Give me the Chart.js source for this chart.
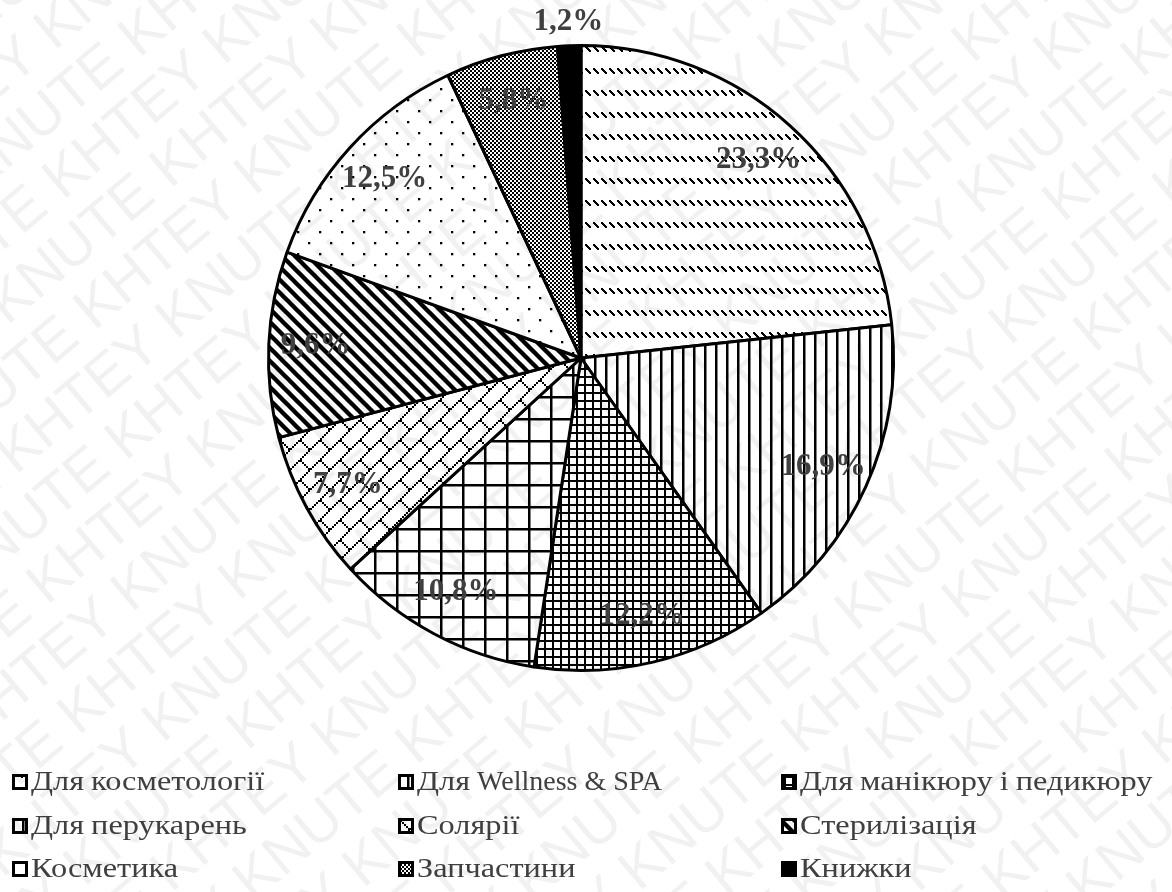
<!DOCTYPE html>
<html>
<head>
<meta charset="utf-8">
<script src="https://cdn.jsdelivr.net/npm/chart.js@4/dist/chart.umd.min.js"></script>
<style>
  html, body { margin: 0; padding: 0; background: #ffffff; }
  #wrap { width: 1172px; height: 892px; position: relative; }
  canvas { display: block; }
</style>
</head>
<body>
<div id="wrap"><canvas id="chart" width="1172" height="892"></canvas></div>
<script>
// Product groups and their share of sales, %
const categories = [
  'Для косметології',
  'Для Wellness & SPA',
  'Для манікюру і педикюру',
  'Для перукарень',
  'Солярії',
  'Стерилізація',
  'Косметика',
  'Запчастини',
  'Книжки'
];
const shares = [23.3, 16.9, 12.2, 10.8, 7.7, 9.6, 12.5, 5.8, 1.2];

// Hatch fill used for each sector (same order as categories)
const fillKinds = ['dashedDiagonal', 'vertical', 'smallGrid', 'largeGrid',
                   'diagonalBrick', 'wideDiagonal', 'dots', 'checker', 'solid'];

const canvas = document.getElementById('chart');
const mainCtx = canvas.getContext('2d');

function makeTile(w, h, draw) {
  const c = document.createElement('canvas');
  c.width = w; c.height = h;
  const g = c.getContext('2d');
  g.fillStyle = '#ffffff';
  g.fillRect(0, 0, w, h);
  g.fillStyle = '#000000';
  g.strokeStyle = '#000000';
  draw(g, w, h);
  return mainCtx.createPattern(c, 'repeat');
}

function makeFill(kind) {
  switch (kind) {
    case 'dashedDiagonal':
      return makeTile(8, 22, g => {
        for (let s = 0; s < 5; s++) g.fillRect(1 + s, 2 + s, 2, 2);
      });
    case 'vertical':
      return makeTile(11, 11, g => g.fillRect(0, 0, 2.5, 11));
    case 'smallGrid':
      return makeTile(8, 8, g => { g.fillRect(0, 0, 8, 2); g.fillRect(0, 0, 2, 8); });
    case 'largeGrid':
      return makeTile(22, 22, g => { g.fillRect(0, 0, 22, 2.5); g.fillRect(0, 0, 2.5, 22); });
    case 'diagonalBrick':
      return makeTile(20, 20, g => {
        for (let i = 0; i <= 18; i += 2) g.fillRect(i, 18 - i, 2, 2);
        for (let i = 0; i <= 8; i += 2) g.fillRect(i, i, 2, 2);
      });
    case 'wideDiagonal':
      return makeTile(13, 13, g => {
        g.lineWidth = 4.4;
        for (let k = -1; k <= 1; k++) {
          g.beginPath();
          g.moveTo(k * 13 - 2, -2);
          g.lineTo(k * 13 + 15, 15);
          g.stroke();
        }
      });
    case 'dots':
      return makeTile(22, 22, g => { g.fillRect(0, 0, 2.3, 2.3); g.fillRect(11, 11, 2.3, 2.3); });
    case 'checker':
      return makeTile(4, 4, g => { g.fillRect(0, 0, 2, 2); g.fillRect(2, 2, 2, 2); });
    default:
      return '#000000';
  }
}

const fills = fillKinds.map(makeFill);

const fmt = v => v.toFixed(1).replace('.', ',') + '%';

// Percentage labels inside the sectors (outside for very thin ones)
const sectorLabels = {
  id: 'sectorLabels',
  afterDatasetsDraw(chart) {
    const ctx = chart.ctx;
    const meta = chart.getDatasetMeta(0);
    ctx.save();
    ctx.font = 'bold 31px "Liberation Serif", "Times New Roman", serif';
    ctx.fillStyle = '#404040';
    ctx.textAlign = 'center';
    ctx.textBaseline = 'middle';
    meta.data.forEach((arc, i) => {
      const p = arc.getProps(['x', 'y', 'startAngle', 'endAngle', 'outerRadius'], true);
      const mid = (p.startAngle + p.endAngle) / 2;
      const r = p.outerRadius * (shares[i] < 2 ? 1.075 : 0.85);
      ctx.fillText(fmt(shares[i]), p.x + Math.cos(mid) * r, p.y + Math.sin(mid) * r);
    });
    ctx.restore();
  }
};

// Cyrillic runs are set slightly wider than Latin ones
function drawLegendText(ctx, text, x, y) {
  const runs = text.split(/([\u0400-\u04FF]+)/).filter(s => s.length);
  runs.forEach(run => {
    const cyr = /[\u0400-\u04FF]/.test(run);
    const sx = cyr ? 1.155 : 1;
    const w = ctx.measureText(run).width * sx;
    ctx.save();
    ctx.translate(x, y);
    ctx.scale(sx, 1);
    ctx.fillText(run, 0, 0);
    ctx.restore();
    x += w;
  });
}

// Three-column legend under the pie
const gridLegend = {
  id: 'gridLegend',
  afterDraw(chart) {
    const ctx = chart.ctx;
    const colX = [12, 398, 781];
    const rowY = [782, 826, 869];
    const ds = chart.data.datasets[0];
    ctx.save();
    ctx.font = '28px "Liberation Serif", "Times New Roman", serif';
    ctx.textBaseline = 'middle';
    ctx.textAlign = 'left';
    chart.data.labels.forEach((label, i) => {
      const x = colX[i % 3];
      const y = rowY[Math.floor(i / 3)];
      ctx.fillStyle = '#000000';
      ctx.fillRect(x, y - 8, 16, 16);
      ctx.fillStyle = '#ffffff';
      ctx.fillRect(x + 3, y - 5, 10, 10);
      ctx.fillStyle = ds.backgroundColor[i];
      ctx.fillRect(x + 3, y - 5, 10, 10);
      ctx.fillStyle = '#404040';
      drawLegendText(ctx, label, x + 19, y + 1);
    });
    ctx.restore();
  }
};

// Faint diagonal watermark across the whole sheet
const watermark = {
  id: 'watermark',
  afterDraw(chart) {
    const ctx = chart.ctx;
    ctx.save();
    ctx.translate(chart.width / 2, chart.height / 2);
    ctx.rotate(-40 * Math.PI / 180);
    ctx.font = '58px "Liberation Sans", Arial, sans-serif';
    ctx.fillStyle = 'rgba(0,0,0,0.055)';
    ctx.textBaseline = 'middle';
    const words = ['KHTEY', 'KNUTE'];
    for (let row = -16; row <= 16; row++) {
      let line = '';
      for (let k = 0; k < 16; k++) line += words[(k + row + 32) % 2] + ' ';
      ctx.fillText(line, -1300 + (row % 3) * 60, row * 60);
    }
    ctx.restore();
  }
};

new Chart(canvas, {
  type: 'pie',
  data: {
    labels: categories,
    datasets: [{
      data: shares,
      backgroundColor: fills,
      borderColor: '#000000',
      borderWidth: 3,
      hoverOffset: 0
    }]
  },
  options: {
    responsive: false,
    animation: false,
    devicePixelRatio: 1,
    layout: { padding: { top: 44, bottom: 220, left: 0, right: 10 } },
    plugins: {
      legend: { display: false },
      tooltip: { enabled: false }
    }
  },
  plugins: [sectorLabels, gridLegend, watermark]
});
</script>
</body>
</html>
